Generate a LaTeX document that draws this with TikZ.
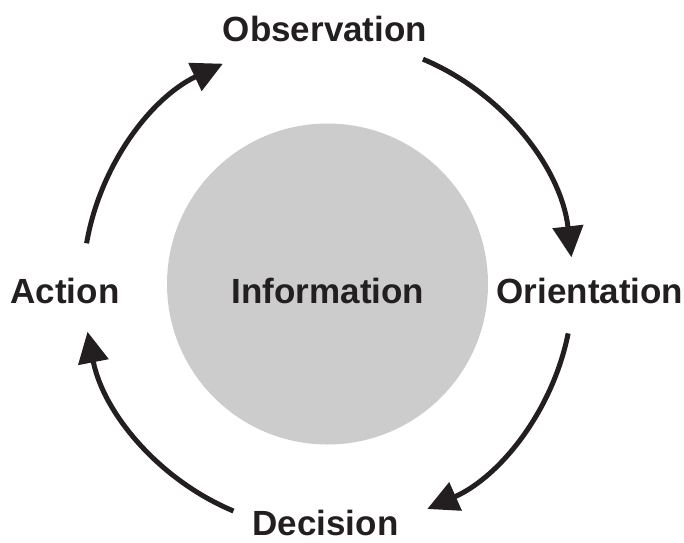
\documentclass[tikz,border=0pt]{standalone}
\usepackage{fontspec}
\setmainfont{Liberation Sans}
\usetikzlibrary{arrows.meta}
\definecolor{ink}{HTML}{231F20}
\definecolor{disc}{HTML}{CCCCCC}
\tikzset{
  lbl/.style={anchor=base, inner sep=0pt, text=ink, font=\fontsize{35}{40}\selectfont\bfseries},
  flow/.style={draw=ink, line width=5pt, -{Triangle[length=31pt,width=30pt]}},
}
\begin{document}
\begin{tikzpicture}[x=1pt,y=1pt]
\useasboundingbox (0,0) rectangle (684,542);
\coordinate (c) at (328,257);
\fill[disc] (327.5,258) circle[radius=160.5];
\node[lbl] (info) at (328,239) {Information};
\node[lbl] (obs) at (325,500) {Observation};
\node[lbl] (ori) at (590,239) {Orientation};
\node[lbl] (dec) at (325.5,7) {Decision};
\node[lbl] (act) at (65,239) {Action};
\coordinate (s1) at ([shift={(67.2:245)}]c);
\coordinate (s2) at ([shift={(-11.4:245)}]c);
\coordinate (s3) at ([shift={(247.3:245)}]c);
\coordinate (s4) at ([shift={(170.2:245)}]c);
\draw[flow] (s1) arc[start angle=67.2, end angle=6.5, radius=245];
\draw[flow] (s2) arc[start angle=-11.4, end angle=-66.1, radius=245];
\draw[flow] (s3) arc[start angle=247.3, end angle=191, radius=245];
\draw[flow] (s4) arc[start angle=170.2, end angle=115.4, radius=245];
\end{tikzpicture}
\end{document}
